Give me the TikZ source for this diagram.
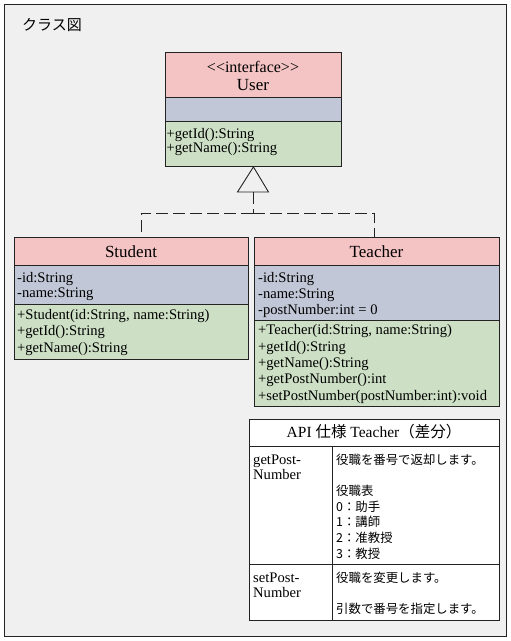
\documentclass[tikz,border=0pt]{standalone}
\usepackage{fontspec}
\setmainfont{Liberation Serif}
\newfontfamily\jp{Noto Sans CJK JP}
\definecolor{hdc}{RGB}{244,195,195}
\definecolor{atc}{RGB}{193,199,214}
\definecolor{mec}{RGB}{205,224,197}
\definecolor{bgc}{RGB}{240,240,240}
\definecolor{lnc}{RGB}{35,35,35}
\begin{document}
\begin{tikzpicture}[x=1pt,y=-1pt,
  comp/.style={draw=lnc, line width=0.9pt, anchor=north west, inner sep=0pt},
  txt/.style={anchor=west, inner sep=0pt, font=\fontsize{14.6}{16}\selectfont, text height=12pt, text depth=2pt},
  ttl/.style={inner sep=0pt, font=\fontsize{17}{19}\selectfont, text height=14pt, text depth=3pt},
  jtxt/.style={anchor=west, inner sep=0pt, font=\jp\fontsize{12.4}{15}\selectfont, text height=12pt, text depth=2pt},
  gen/.style={draw=lnc, line width=0.9pt, dash pattern=on 12pt off 5pt}]
\useasboundingbox (0,0) rectangle (511,641);
% frame
\node[draw=lnc, line width=1.3pt, fill=bgc, anchor=north west, inner sep=0pt,
      minimum width=502pt, minimum height=632pt] (frame) at (4,4) {};
\node[anchor=west, inner sep=0pt, font=\jp\fontsize{15}{17}\selectfont, text height=13pt, text depth=2pt] (title) at (22,25) {クラス図};
% User
\node[comp, fill=hdc, minimum width=176pt, minimum height=45pt] (uh) at (165,52) {};
\node[comp, fill=atc, minimum width=176pt, minimum height=24pt] (ua) at (165,97) {};
\node[comp, fill=mec, minimum width=176pt, minimum height=45pt] (um) at (165,121) {};
\node[ttl, font=\fontsize{16}{18}\selectfont] (u1) at (253,67) {<\kern0pt<interface>\kern0pt>};
\node[ttl] (u2) at (253,85) {User};
\node[txt] (u3) at (166.5,133) {+getId():String};
\node[txt] (u4) at (166.5,147.5) {+getName():String};
% triangle
\coordinate (apex) at (um.south);
\coordinate (tb) at (253,192);
\draw[draw=lnc, line width=0.9pt, fill=bgc] (apex) -- (237.5,192) -- (268.5,192) -- cycle;
% Student
\node[comp, fill=hdc, minimum width=234pt, minimum height=28pt] (sh) at (14,237) {};
\node[comp, fill=atc, minimum width=234pt, minimum height=39pt] (sa) at (14,265) {};
\node[comp, fill=mec, minimum width=234pt, minimum height=55pt] (sm) at (14,304) {};
\node[ttl] (s0) at (131,252) {Student};
\node[txt] (s1) at (17,277) {-id:String};
\node[txt] (s2) at (17,292.5) {-name:String};
\node[txt] (s3) at (17,314) {+Student(id:String, name:String)};
\node[txt] (s4) at (17,330.5) {+getId():String};
\node[txt] (s5) at (17,347) {+getName():String};
% Teacher
\node[comp, fill=hdc, minimum width=245pt, minimum height=28pt] (th) at (254,237) {};
\node[comp, fill=atc, minimum width=245pt, minimum height=55pt] (ta) at (254,265) {};
\node[comp, fill=mec, minimum width=245pt, minimum height=86pt] (tm) at (254,320) {};
\node[ttl] (t0) at (376.5,252) {Teacher};
\node[txt] (t1) at (258,277) {-id:String};
\node[txt] (t2) at (258,293) {-name:String};
\node[txt] (t3) at (258,309) {-postNumber:int = 0};
\node[txt] (t4) at (258,329.5) {+Teacher(id:String, name:String)};
\node[txt] (t5) at (258,346) {+getId():String};
\node[txt] (t6) at (258,362) {+getName():String};
\node[txt] (t7) at (258,378.5) {+getPostNumber():int};
\node[txt] (t8) at (258,395) {+setPostNumber(postNumber:int):void};
% generalization
\coordinate (mid) at (253,213);
\draw[gen] (tb) -- (mid);
\draw[gen] (mid) -| ([xshift=10pt]sh.north);
\draw[gen] (mid) -| ([xshift=-2.5pt]th.north);
% API table
\node[draw=lnc, line width=0.9pt, fill=white, anchor=north west, inner sep=0pt,
      minimum width=250pt, minimum height=201pt] (api) at (249,419) {};
\draw[draw=lnc, line width=0.9pt] (api.north west) ++(0,27) -- ++(250,0);
\draw[draw=lnc, line width=0.9pt] (api.north west) ++(0,145) -- ++(250,0);
\draw[draw=lnc, line width=0.9pt] (api.north west) ++(83,27) -- (api.south west -| 332,0);
\node[inner sep=0pt, font=\fontsize{15.5}{17}\selectfont, text height=13pt, text depth=3pt] (a0) at (374,432.5)
  {API {\jp 仕様} Teacher{\jp （差分）}};
\node[txt] (a1) at (253,459) {getPost-};
\node[txt] (a2) at (253,474.5) {Number};
\node[jtxt] (a3) at (336,459) {役職を番号で返却します。};
\node[jtxt] (a4) at (336,490) {役職表};
\node[jtxt] (a5) at (336,506) {0：助手};
\node[jtxt] (a6) at (336,521.5) {1：講師};
\node[jtxt] (a7) at (336,537) {2：准教授};
\node[jtxt] (a8) at (336,553) {3：教授};
\node[txt] (a9) at (253,577) {setPost-};
\node[txt] (a10) at (253,592.5) {Number};
\node[jtxt] (a11) at (336,577) {役職を変更します。};
\node[jtxt] (a12) at (336,608) {引数で番号を指定します。};
\end{tikzpicture}
\end{document}
